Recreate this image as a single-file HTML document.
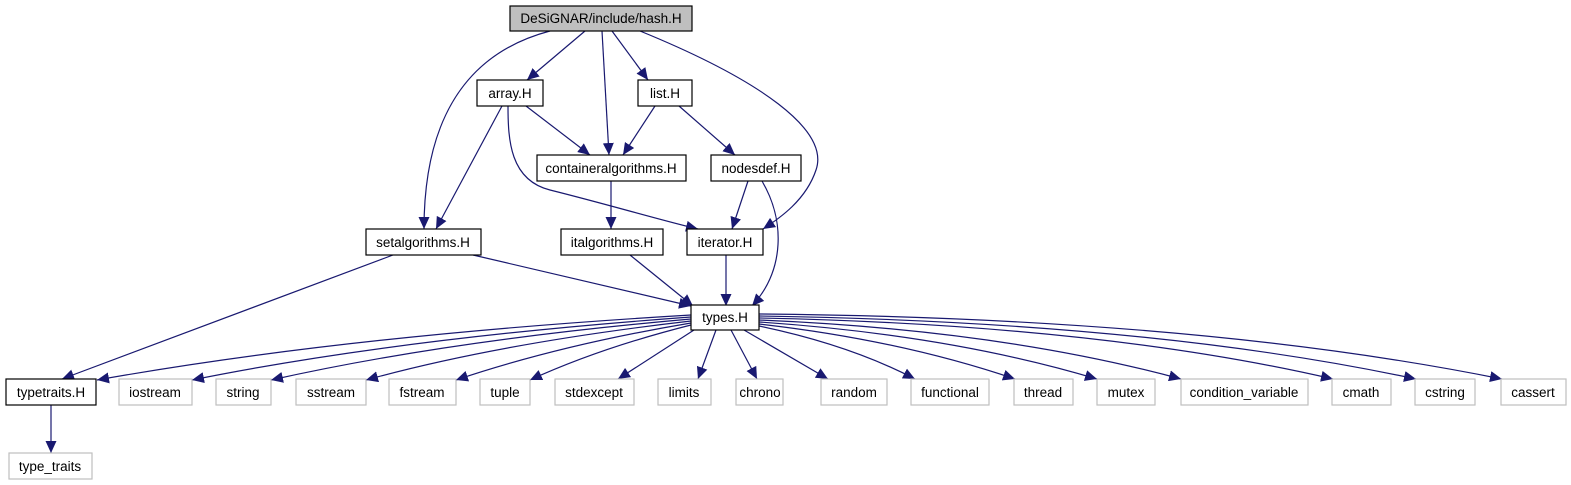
<!DOCTYPE html>
<html><head><meta charset="utf-8"><style>
body{margin:0;background:#fff;}
svg{display:block;}
text{font-family:"Liberation Sans",Helvetica,sans-serif;font-size:13.5px;text-anchor:middle;}
</style></head><body>
<svg width="1571" height="485" viewBox="0 0 1571 485" xmlns="http://www.w3.org/2000/svg">
<defs>
<marker id="a" markerUnits="userSpaceOnUse" markerWidth="13" markerHeight="11" refX="12" refY="5.5" orient="auto">
<path d="M0,0 L12,5.5 L0,11 Z" fill="#191970"/>
</marker>
</defs>
<g fill="none" stroke="#191970" stroke-width="1.2" marker-end="url(#a)">
<path d="M585,31 L527,80"/>
<path d="M602,31 L609,155"/>
<path d="M612,31 L648,80"/>
<path d="M550,31 C440,60 424,160 424,229"/>
<path d="M640,31 C760,80 830,130 816,170 C806,200 780,218 763,229"/>
<path d="M526,106 L590,155"/>
<path d="M502,106 L436,229"/>
<path d="M508,106 C508,140 510,180 550,190 C610,205 660,220 698,229"/>
<path d="M655,106 L623,155"/>
<path d="M679,106 L735,155"/>
<path d="M748,181 L732,229"/>
<path d="M762,181 C785,220 785,270 752,306"/>
<path d="M611,181 L611,229"/>
<path d="M630,255 L693,306"/>
<path d="M726,255 L726,306"/>
<path d="M473,255 L691,306"/>
<path d="M393,255 L62,379"/>
<path d="M51,405 L51,453"/>
<path d="M691,315 Q350,335 97,380"/>
<path d="M691,317 Q400,338 192,380"/>
<path d="M691,319 Q450,340 271,380"/>
<path d="M691,321 Q500,343 366,380"/>
<path d="M691,323 Q560,345 456,380"/>
<path d="M691,325 Q600,348 530,380"/>
<path d="M694,330 L618,379"/>
<path d="M716,330 L698,379"/>
<path d="M731,330 L757,379"/>
<path d="M744,330 L828,379"/>
<path d="M759,326 Q850,345 915,379"/>
<path d="M759,324 Q900,340 1015,379"/>
<path d="M759,322 Q950,335 1097,379"/>
<path d="M759,320 Q1000,330 1181,379"/>
<path d="M759,318 Q1100,325 1333,379"/>
<path d="M759,316 Q1150,322 1416,379"/>
<path d="M759,314 Q1200,318 1502,379"/>
</g>
<g stroke-width="1.2">
<rect x="510" y="6" width="182" height="25" fill="#bfbfbf" stroke="#000"/>
<rect x="477" y="80" width="66" height="26" fill="#fff" stroke="#000"/>
<rect x="638" y="80" width="54" height="26" fill="#fff" stroke="#000"/>
<rect x="537" y="155" width="149" height="26" fill="#fff" stroke="#000"/>
<rect x="711" y="155" width="90" height="26" fill="#fff" stroke="#000"/>
<rect x="366" y="229" width="115" height="26" fill="#fff" stroke="#000"/>
<rect x="561" y="229" width="102" height="26" fill="#fff" stroke="#000"/>
<rect x="687" y="229" width="76" height="26" fill="#fff" stroke="#000"/>
<rect x="691" y="305" width="68" height="25" fill="#fff" stroke="#000"/>
<rect x="6" y="379" width="90" height="26" fill="#fff" stroke="#000"/>
<rect x="9" y="453" width="83" height="26" fill="#fff" stroke="#bfbfbf"/>
<g fill="#fff" stroke="#bfbfbf">
<rect x="119" y="379" width="73" height="26"/>
<rect x="216" y="379" width="55" height="26"/>
<rect x="296" y="379" width="70" height="26"/>
<rect x="389" y="379" width="67" height="26"/>
<rect x="480" y="379" width="50" height="26"/>
<rect x="555" y="379" width="79" height="26"/>
<rect x="658" y="379" width="53" height="26"/>
<rect x="736" y="379" width="47" height="26"/>
<rect x="821" y="379" width="66" height="26"/>
<rect x="911" y="379" width="78" height="26"/>
<rect x="1014" y="379" width="59" height="26"/>
<rect x="1097" y="379" width="58" height="26"/>
<rect x="1181" y="379" width="127" height="26"/>
<rect x="1332" y="379" width="59" height="26"/>
<rect x="1415" y="379" width="60" height="26"/>
<rect x="1501" y="379" width="65" height="26"/>
</g>
</g>
<g fill="#000">
<text x="601" y="23">DeSiGNAR/include/hash.H</text>
<text x="510" y="98">array.H</text>
<text x="665" y="98">list.H</text>
<text x="611" y="173">containeralgorithms.H</text>
<text x="756" y="173">nodesdef.H</text>
<text x="423" y="247">setalgorithms.H</text>
<text x="612" y="247">italgorithms.H</text>
<text x="725" y="247">iterator.H</text>
<text x="725" y="322">types.H</text>
<text x="51" y="397">typetraits.H</text>
<text x="50" y="471">type_traits</text>
<text x="155" y="397">iostream</text>
<text x="243" y="397">string</text>
<text x="331" y="397">sstream</text>
<text x="422" y="397">fstream</text>
<text x="505" y="397">tuple</text>
<text x="594" y="397">stdexcept</text>
<text x="684" y="397">limits</text>
<text x="760" y="397">chrono</text>
<text x="854" y="397">random</text>
<text x="950" y="397">functional</text>
<text x="1043" y="397">thread</text>
<text x="1126" y="397">mutex</text>
<text x="1244" y="397">condition_variable</text>
<text x="1361" y="397">cmath</text>
<text x="1445" y="397">cstring</text>
<text x="1533" y="397">cassert</text>
</g>
</svg>
</body></html>
